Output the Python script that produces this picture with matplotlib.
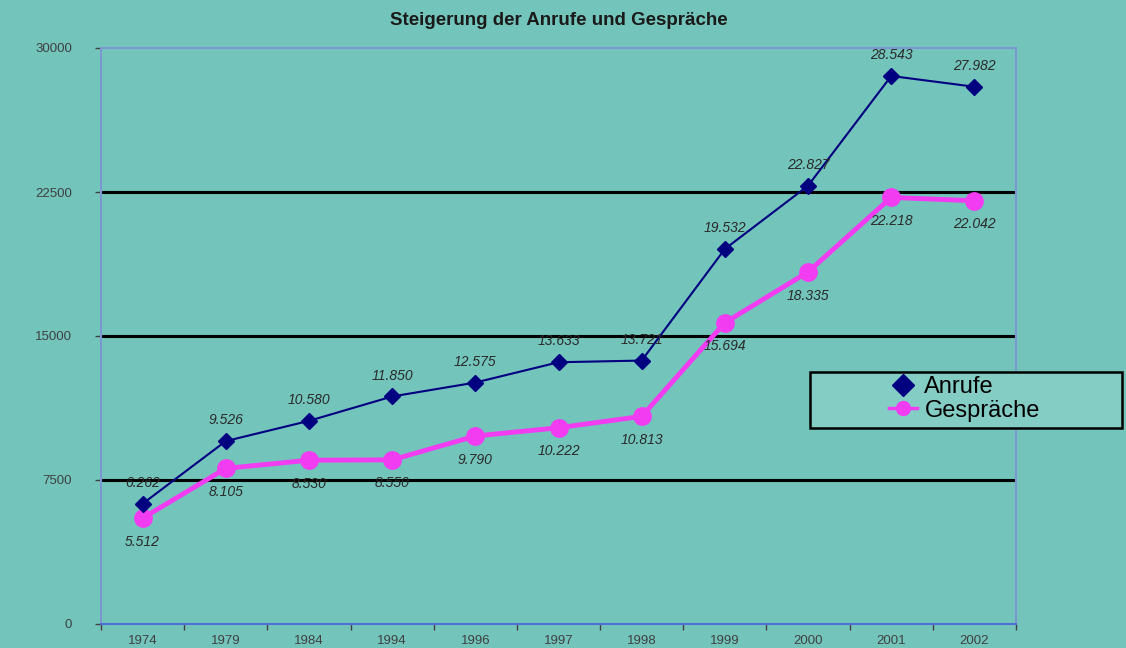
import matplotlib.pyplot as plt
from matplotlib.patches import Rectangle
from matplotlib.lines import Line2D

jahre = ["1974", "1979", "1984", "1994", "1996", "1997", "1998", "1999", "2000", "2001", "2002"]
anrufe = [6262, 9526, 10580, 11850, 12575, 13633, 13721, 19532, 22827, 28543, 27982]
gespraeche = [5512, 8105, 8530, 8550, 9790, 10222, 10813, 15694, 18335, 22218, 22042]
y_ticks = [0, 7500, 15000, 22500, 30000]

bg = "#73C4BB"
plt.rcParams["font.family"] = ["Liberation Sans", "DejaVu Sans"]

fig = plt.figure(figsize=(11.26, 6.48), dpi=100, facecolor=bg)
ax = fig.add_axes([101 / 1126, 24 / 648, 915 / 1126, 576 / 648], facecolor=bg)

x = list(range(len(jahre)))

# horizontal gridlines
for v in y_ticks[1:-1]:
    ax.axhline(v, color="black", lw=2.2, zorder=1)

ax.plot(x, anrufe, color="#000080", lw=1.5, marker="D", ms=8.5, zorder=3)
ax.plot(x, gespraeche, color="#F23CF2", lw=3.5, marker="o", ms=12.5, zorder=2)

def fmt(v):
    return f"{v:,}".replace(",", ".")

for i, v in enumerate(anrufe):
    ax.annotate(fmt(v), (i, v), xytext=(0, 15), textcoords="offset points",
                ha="center", va="center", fontsize=10, style="italic", color="#2a2a2a", zorder=4)
for i, v in enumerate(gespraeche):
    ax.annotate(fmt(v), (i, v), xytext=(0, -17), textcoords="offset points",
                ha="center", va="center", fontsize=10, style="italic", color="#2a2a2a", zorder=4)

ax.set_xlim(-0.5, len(jahre) - 0.5)
ax.set_ylim(0, 30000)
ax.set_yticks(y_ticks)
ax.set_yticklabels([str(v) for v in y_ticks], fontsize=9.5, color="#404040")
ax.tick_params(axis="y", length=4, width=1, color="#404040", pad=17)
ax.set_xticks(x)
ax.set_xticklabels(jahre, fontsize=9.5, color="#404040")
ax.set_xticks([i - 0.5 for i in range(len(jahre) + 1)], minor=True)
ax.tick_params(axis="x", which="major", length=0, pad=8)
ax.tick_params(axis="x", which="minor", length=4, width=1, color="#404040")

for s in ax.spines.values():
    s.set_color("#7A98CF")
    s.set_linewidth(1.5)
ax.spines["bottom"].set_color("#4E6FD6")

fig.text(0.4964, 0.968, "Steigerung der Anrufe und Gespräche", ha="center", va="center",
         fontsize=13.5, fontweight="bold", color="#1a1a1a")

# legend box
fig.patches.append(Rectangle((810 / 1126, 220 / 648), 312 / 1126, 56 / 648,
                             transform=fig.transFigure, fc="#84CDC5", ec="black", lw=1.8))
handles = [Line2D([], [], color="#000080", marker="D", ms=11, lw=0),
           Line2D([], [], color="#F23CF2", marker="o", ms=10, lw=2.5)]
fig.legend(handles, ["Anrufe", "Gespräche"], frameon=False, loc="center left",
           bbox_to_anchor=(889 / 1126, 249 / 648), borderpad=0, borderaxespad=0,
           handlelength=1.2, handletextpad=0.3, labelspacing=0.05, fontsize=17)

fig.savefig("out.png", dpi=100, facecolor=bg)
